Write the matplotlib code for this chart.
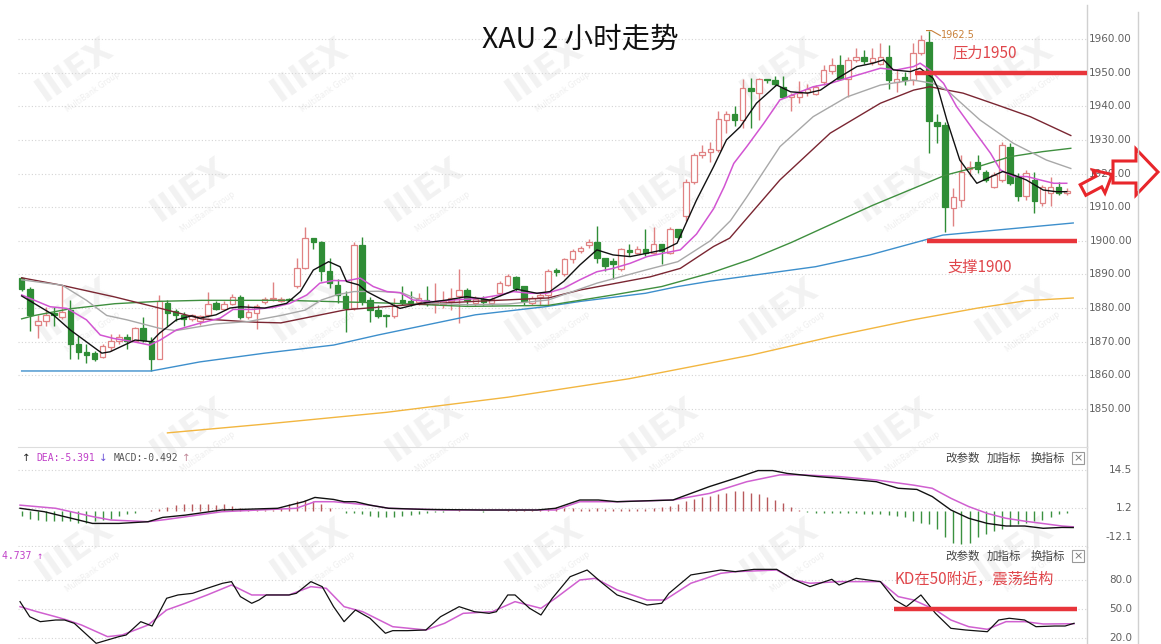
import numpy as np
import matplotlib
matplotlib.use("Agg")
import matplotlib.pyplot as plt
from matplotlib.lines import Line2D
from matplotlib.patches import Polygon, Rectangle

plt.rcParams['font.family'] = ['Noto Sans CJK SC', 'DejaVu Sans']

W, H = 1161, 644

# ---------------- data ----------------
opens = [1888.8, 1885.6, 1875.0, 1876.3, 1878.5, 1877.3, 1879.3, 1869.3, 1866.8, 1866.5,
         1865.6, 1868.3, 1870.3, 1871.3, 1870.3, 1874.0, 1870.3, 1865.0, 1881.6, 1879.0,
         1877.8, 1876.8, 1876.3, 1877.8, 1881.6, 1879.6, 1881.3, 1883.3, 1877.3, 1878.6,
         1881.8, 1882.6, 1882.2, 1882.8, 1886.5, 1892.0, 1900.8, 1899.5, 1891.0, 1887.0,
         1883.5, 1880.0, 1898.8, 1882.5, 1879.5, 1878.0, 1877.5, 1882.5, 1882.2, 1881.8,
         1882.5, 1881.2, 1881.2, 1882.0, 1883.5, 1885.5, 1881.5, 1882.8, 1881.5, 1884.5,
         1887.0, 1889.2, 1886.5, 1881.5, 1883.2, 1884.0, 1891.2, 1890.0, 1894.5, 1897.0,
         1898.7, 1899.5, 1895.0, 1894.0, 1891.5, 1897.3, 1896.5, 1897.5, 1896.5, 1899.0,
         1896.5, 1903.5, 1907.5, 1917.5, 1925.5, 1926.5, 1927.0, 1936.0, 1937.7, 1936.0,
         1945.5, 1944.0, 1948.0, 1947.8, 1945.8, 1942.8, 1942.8, 1944.2, 1943.7, 1947.2,
         1950.5, 1952.2, 1948.2, 1953.7, 1954.5, 1953.2, 1952.7, 1954.7, 1947.2, 1948.7,
         1947.7, 1955.7, 1959.2, 1935.2, 1934.3, 1909.7, 1912.2, 1921.2, 1923.4, 1920.6,
         1916.1, 1918.1, 1928.0, 1919.1, 1913.2, 1918.1, 1911.2, 1914.2, 1916.1, 1914.2]
highs = [1889.3, 1886.3, 1877.8, 1880.3, 1880.3, 1886.8, 1882.3, 1871.8, 1869.3, 1867.3,
         1869.3, 1872.3, 1872.3, 1872.3, 1874.3, 1877.3, 1871.3, 1883.8, 1882.3, 1879.8,
         1878.8, 1878.3, 1878.0, 1884.8, 1882.0, 1882.0, 1884.3, 1883.8, 1881.3, 1881.3,
         1883.3, 1887.8, 1883.3, 1883.0, 1895.0, 1904.2, 1900.8, 1899.8, 1895.0, 1888.5,
         1885.0, 1899.5, 1901.2, 1883.2, 1881.0, 1878.3, 1883.0, 1886.5, 1885.0, 1884.5,
         1886.5, 1887.5, 1885.0, 1886.0, 1891.5, 1886.0, 1883.5, 1883.5, 1883.3, 1888.0,
         1890.0, 1889.5, 1886.5, 1883.5, 1884.5, 1891.5, 1892.0, 1895.0, 1897.5, 1898.5,
         1900.5, 1904.5, 1895.0, 1895.0, 1898.0, 1899.0, 1898.5, 1903.5, 1904.0, 1899.0,
         1904.0, 1903.5, 1918.5, 1926.0, 1928.5, 1929.5, 1938.5, 1938.5, 1940.0, 1948.0,
         1948.5, 1948.5, 1948.0, 1949.0, 1949.0, 1944.0, 1947.5, 1946.5, 1946.2, 1952.2,
         1954.2, 1955.2, 1954.7, 1957.2, 1956.7, 1957.2, 1958.7, 1958.2, 1950.7, 1950.2,
         1958.7, 1961.2, 1962.5, 1937.7, 1935.2, 1915.6, 1925.4, 1923.6, 1925.5, 1921.1,
         1920.6, 1929.5, 1929.0, 1920.1, 1921.1, 1920.6, 1916.6, 1919.1, 1917.6, 1915.6]
lows = [1885.0, 1873.3, 1871.0, 1874.8, 1874.8, 1876.8, 1864.8, 1864.8, 1863.8, 1864.3,
        1865.3, 1867.3, 1869.3, 1867.8, 1869.8, 1869.8, 1861.3, 1864.8, 1874.8, 1876.3,
        1874.8, 1876.3, 1875.0, 1877.3, 1879.3, 1879.3, 1880.8, 1876.8, 1876.8, 1873.8,
        1881.3, 1882.0, 1881.8, 1882.0, 1886.0, 1891.5, 1897.5, 1888.0, 1886.0, 1881.5,
        1873.0, 1879.5, 1881.0, 1876.0, 1877.0, 1874.5, 1877.0, 1881.0, 1880.5, 1881.0,
        1880.5, 1878.5, 1880.0, 1879.5, 1875.5, 1881.0, 1880.5, 1881.0, 1881.0, 1883.5,
        1886.5, 1885.0, 1881.0, 1881.0, 1881.0, 1880.5, 1889.5, 1889.5, 1893.5, 1896.5,
        1898.0, 1893.5, 1891.0, 1888.5, 1891.0, 1895.5, 1896.0, 1895.5, 1896.0, 1893.0,
        1896.0, 1900.5, 1906.0, 1917.0, 1924.5, 1923.5, 1926.5, 1932.0, 1934.0, 1933.5,
        1933.5, 1936.0, 1947.0, 1946.0, 1942.5, 1938.5, 1941.0, 1943.0, 1943.2, 1946.2,
        1949.7, 1947.7, 1942.7, 1953.2, 1952.7, 1952.2, 1952.2, 1945.2, 1944.2, 1946.2,
        1946.2, 1955.2, 1926.2, 1929.2, 1902.5, 1904.5, 1910.0, 1919.2, 1920.2, 1917.6,
        1915.6, 1917.6, 1916.6, 1911.7, 1912.2, 1908.2, 1910.2, 1910.2, 1913.7, 1913.7]
closes = [1885.8, 1877.8, 1876.3, 1877.8, 1877.8, 1878.8, 1869.3, 1866.8, 1866.0, 1864.8,
          1868.8, 1870.3, 1871.3, 1870.3, 1874.0, 1870.6, 1865.0, 1882.0, 1878.6, 1878.0,
          1876.8, 1877.8, 1877.5, 1881.3, 1879.6, 1881.3, 1883.3, 1877.3, 1878.8, 1880.6,
          1882.6, 1883.1, 1882.8, 1882.4, 1892.0, 1900.8, 1899.5, 1891.0, 1887.5, 1884.0,
          1880.0, 1898.8, 1882.0, 1879.5, 1877.5, 1877.6, 1880.5, 1881.5, 1881.5, 1883.0,
          1881.5, 1881.8, 1882.2, 1883.0, 1885.5, 1882.5, 1882.8, 1881.8, 1882.8, 1887.5,
          1889.5, 1886.0, 1882.0, 1883.0, 1884.0, 1891.0, 1890.8, 1894.5, 1897.0, 1898.0,
          1899.7, 1895.0, 1892.5, 1893.0, 1897.5, 1896.8, 1897.5, 1896.5, 1899.0, 1897.0,
          1903.5, 1901.0, 1917.5, 1925.5, 1926.5, 1927.2, 1936.2, 1937.7, 1936.0, 1945.5,
          1944.5, 1948.0, 1947.8, 1946.5, 1942.8, 1943.2, 1944.0, 1945.2, 1945.7, 1950.7,
          1952.2, 1948.2, 1953.7, 1954.5, 1953.5, 1954.2, 1954.7, 1947.7, 1948.2, 1947.7,
          1955.7, 1959.7, 1935.7, 1934.2, 1910.0, 1913.0, 1920.5, 1922.0, 1921.2, 1918.1,
          1919.6, 1928.5, 1917.1, 1913.2, 1920.1, 1911.7, 1916.1, 1916.1, 1914.2, 1914.7]

# moving averages: (bar position, value) read at points along each line
ma5_x = [0, 3.9, 6, 9.9, 10.9, 14, 16, 17, 19.1, 21, 22, 24, 25.7, 27, 30, 32.7, 34.4, 36,
         37.9, 39.3, 40.1, 41.6, 42.6, 44.2, 46.7, 49.2, 52.5, 54.9, 57.8, 59.9, 61.1, 63.6,
         65.2, 66.9, 68.9, 71, 73, 75.1, 77.2, 79.2, 80.9, 83.3, 85.4, 87, 88.7, 90.7, 93.2,
         94.9, 97, 98.6, 100.7, 103.1, 105.1, 106.4, 107.6, 109.7, 110.9, 112.5, 113.1,
         114.2, 115.8, 117.9, 119.7, 121.1, 122.4, 124, 126.1, 127.7, 129]
ma5_y = [1883.6, 1878, 1873.5, 1866.6, 1867, 1870.5, 1870, 1872.5, 1876.5, 1877.7, 1877,
         1878, 1880, 1880.4, 1880, 1881.4, 1884.9, 1891.3, 1893.8, 1892.3, 1887.9, 1886.9,
         1884.9, 1882.9, 1879.9, 1881.4, 1882.4, 1883.4, 1882.4, 1884.4, 1885.6, 1884.4,
         1884.9, 1887.9, 1892.8, 1897.3, 1895.8, 1895.3, 1896.3, 1897.3, 1899.3, 1912.1,
         1922, 1930, 1933.9, 1940.9, 1946.3, 1944.3, 1943.9, 1944.8, 1948.3, 1951.8,
         1952.8, 1953.8, 1950.8, 1950.3, 1951.3, 1948.3, 1945.3, 1935.9, 1924, 1917.1,
         1919.1, 1920.6, 1919.6, 1918.1, 1915.1, 1914.6, 1914.6]

ma10_x = [0, 3.5, 5.6, 8, 9.7, 11.3, 13.8, 15.8, 17.1, 19.1, 22, 24.5, 26.1, 28.6, 31.1,
          33.1, 35.2, 36.8, 38.5, 40.1, 41.8, 43.4, 45.1, 46.7, 48.3, 50.8, 53.3, 56.6, 59,
          60.7, 62.8, 64.8, 66.9, 68.9, 71, 73, 75.1, 77.2, 79.2, 81.3, 83.3, 85.4, 86.7,
          87.9, 89.5, 91.6, 93.6, 95.7, 97.7, 99.8, 101.8, 103.9, 106, 108, 110.1, 110.9,
          112.1, 113.8, 115.4, 117.5, 119.6, 120.8, 122.4, 124.1, 125.7, 127.4, 129]
ma10_y = [1883.9, 1880.4, 1879.9, 1876.5, 1872, 1871, 1870, 1869, 1870.5, 1873.5, 1875.5,
          1877, 1879.6, 1879.6, 1880.2, 1881.4, 1883.9, 1887.4, 1888.2, 1888.1, 1888.9,
          1886.4, 1884.9, 1884.6, 1882.4, 1881.9, 1882.4, 1882.9, 1883.9, 1884.9, 1884.4,
          1884.4, 1885.9, 1888.4, 1890.8, 1891.8, 1893.3, 1895.3, 1896.3, 1897.3, 1902,
          1909.5, 1916, 1923, 1928, 1934.9, 1941.9, 1943.9, 1945.8, 1946.8, 1948.3, 1949.8,
          1951.3, 1950.8, 1951.8, 1952.8, 1950.8, 1946.8, 1939.9, 1932.9, 1926, 1921.1,
          1919.1, 1919.1, 1918.1, 1917.1, 1917.1]

ma20_x = [0, 5, 8, 10.5, 13, 17, 19, 24, 28, 32, 35, 37, 39, 41, 44, 47, 50, 55, 60, 65,
          71, 77, 81, 85, 87.5, 89.5, 93.6, 97.7, 101.9, 106, 110, 112.5, 114.2, 118.3,
          122.4, 126.5, 129.5]
ma20_y = [1888.4, 1886.8, 1882.3, 1877.8, 1876.5, 1874, 1873.3, 1875.3, 1876, 1877.8,
          1879.4, 1882.4, 1884, 1884.9, 1885, 1884.5, 1881.5, 1881, 1881.2, 1882.4, 1887.4,
          1891.3, 1893.8, 1900, 1906, 1913, 1928, 1936.9, 1942.8, 1946.3, 1947.8, 1946.8,
          1944.8, 1935.9, 1929, 1924, 1921.5]

ma30_x = [0, 4.9, 11.5, 16.5, 22.2, 28.8, 32, 40, 48, 56, 65, 69, 77.6, 81.3, 85.4, 87.4,
          93.6, 99.8, 106, 110.1, 112.1, 116.2, 120.4, 124.5, 129.5]
ma30_y = [1889, 1886.8, 1883.3, 1880.3, 1876.8, 1875.8, 1875.6, 1879.5, 1881, 1882, 1883,
          1885.4, 1889.3, 1891.8, 1898.3, 1900.8, 1918.1, 1932, 1940.9, 1944.8, 1945.8,
          1943.9, 1940.4, 1936.9, 1931.3]

ma60_x = [0, 1.6, 6, 11.5, 16.9, 22.2, 32.5, 45, 55, 65, 73, 79, 85, 90, 95, 100, 105,
          110, 114, 118, 122, 126, 129.5]
ma60_y = [1876.8, 1877.8, 1879.8, 1881.3, 1882, 1882.3, 1882.3, 1881.5, 1880.5, 1880.8,
          1883.9, 1886.4, 1890.4, 1894.5, 1899.5, 1905, 1910.5, 1915.5, 1919.5, 1922,
          1925, 1926.5, 1927.5]

ma120_x = [0, 16, 22, 30, 38.5, 44, 56, 64.6, 69, 77, 81, 85, 98, 104.7, 113.7, 129.8]
ma120_y = [1861.3, 1861.3, 1864, 1866.6, 1869, 1872, 1878, 1880.4, 1882, 1884.4, 1886.4,
           1888, 1892.3, 1895.8, 1901.7, 1905.3]

ma250_x = [18, 30, 45, 60, 75, 90, 100, 110, 118, 124, 129.8]
ma250_y = [1842.9, 1845.5, 1849, 1853.5, 1859, 1866, 1871.5, 1876.5, 1880, 1882.2, 1883]

price_ticks = [1850, 1860, 1870, 1880, 1890, 1900, 1910, 1920, 1930, 1940, 1950, 1960]

# MACD panel
dif_x = [-0.2, 2.8, 8.75, 12, 15.6, 17.4, 20.2, 24.7, 31.6, 34.8, 36.2, 38.5, 39.8, 41.2,
         43, 45.3, 49.9, 56.8, 63.6, 65.9, 68.9, 71.2, 73.5, 80.4, 82.6, 84.9, 88.1, 90.9,
         92.7, 94.5, 98.2, 100.9, 105.5, 108.2, 110.5, 112.4, 114.7, 116.9, 119.2, 121.5,
         123.8, 126.1, 128.4, 129.8]
dif_y = [1.1, -0.1, -4.2, -4.2, -3.6, -2.1, -1.3, 0.5, 1.1, 3.4, 4.9, 4.2, 3.4, 3.4, 2.2,
         1.1, 0.7, 0.5, 0.5, 1.1, 4.0, 4.0, 3.4, 4.0, 6.3, 8.7, 11.6, 14.3, 14.3, 13.3, 12.2,
         11.6, 10.4, 8.1, 7.7, 5.2, 0.5, -2.4, -4.2, -5.1, -5.1, -5.9, -5.6, -5.64]
dea_x = [-0.2, 4.2, 8.75, 11, 15.6, 17.9, 24.7, 33.9, 36.2, 38.5, 43, 45.3, 52.2, 65.9,
         68.9, 73.5, 80.4, 84.9, 89.5, 93.6, 96.3, 100.9, 105.5, 110.1, 112.4, 114.7, 116.9,
         119.2, 121.5, 123.8, 128.4, 129.8]
dea_y = [2.2, 1.1, -1.8, -3.0, -3.6, -2.8, -0.1, 1.1, 3.4, 3.4, 2.2, 1.1, 0.5, 0.5, 3.4, 3.4,
         4.0, 6.3, 10.4, 12.8, 12.8, 12.2, 11.0, 9.2, 8.1, 4.6, 1.7, -0.7, -2.4, -3.4, -5.1,
         -5.391]
macd_hist = [-1.5, -2.5, -3, -3.5, -3.5, -3.5, -3.5, -4, -4, -3.5, -3, -2.5, -1.5, -0.8,
             -0.4, 0.3, 0.5, 0.8, 1.5, 2.2, 2.5, 2.5, 2.5, 2.5, 2.2, 2.5, 1.8, 1.2, 0.8, 0.5,
             0.4, 0.6, 1.2, 2.5, 3.5, 4, 3.5, 2.5, 1.2, 0.3, -0.5, -0.6, -0.8, -1.5, -1.8,
             -1.8, -1.8, -1.5, -1.2, -0.8, -0.4, -0.3, -0.2, 0.2, 0.4, 0.2, 0.1, -0.1, 0.1,
             0.3, 0.5, 0.6, 0.6, 0.4, 0.8, 1.2, 1.5, 1.2, 1.2, 1.0, 1.0, 1.2, 1.0, 0.8, 0.8,
             0.8, 1.0, 1.0, 1.2, 1.5, 2.0, 2.5, 3.5, 4.5, 5.0, 5.5, 6.0, 6.5, 7.0, 7.0, 6.5,
             6.0, 5.0, 4.0, 3.0, 1.5, 0.5, -0.3, -0.4, -0.5, -0.5, -0.6, -0.6, -0.7, -0.8,
             -0.9, -1.0, -1.2, -1.5, -2.0, -3.5, -4.0, -4.5, -6.0, -9.0, -11.0, -11.5, -11.0,
             -9.0, -8.0, -7.0, -6.0, -5.0, -4.5, -4.0, -3.5, -3.0, -2.0, -1.0, -0.492]
macd_ticks = [14.5, 1.2, -12.1]

# KD panel
k_x = [-0.2, 1, 2.3, 4.2, 5.3, 6.5, 9.2, 12, 12.9, 14.7, 16.1, 17.9, 19.3, 21.1, 22.9,
       24.8, 25.9, 27, 28.4, 29.3, 30.2, 33, 33.9, 35.7, 37.1, 38.5, 39.8, 41.2, 43, 44.9,
       45.8, 47.6, 49.9, 51.7, 54, 55.9, 57.7, 58.6, 60, 60.9, 62.7, 64.1, 65.5, 67.7, 69.8,
       71.7, 73.5, 77.2, 79, 79.9, 82.6, 86.3, 88.1, 90.4, 93.2, 95.4, 97.3, 100, 100.9,
       103, 106, 107.8, 109.2, 111, 112.8, 114.7, 116.5, 119.2, 120.6, 121.9, 123.8, 125.2,
       127.5, 128.8, 129.9]
k_y = [57.6, 42, 36.9, 38.6, 38.6, 35.2, 14.5, 21.4, 23.1, 36.9, 32.4, 61.1, 64.5, 66.2,
       71.4, 76.6, 78.3, 62.8, 55.9, 59.3, 64.5, 64.5, 66.2, 78.3, 73.1, 52.4, 36.9, 49,
       40.4, 24.9, 27.6, 27.6, 28.3, 42, 52.4, 47.2, 45.5, 47.2, 64.5, 64.5, 50.7, 43.8,
       61.1, 83.4, 90.3, 76.6, 64.5, 54.1, 55.9, 66.2, 85.2, 90.3, 88.6, 91, 91, 80, 73.1,
       80.7, 74.8, 81.7, 78.3, 59.3, 52.4, 64.5, 45.5, 30, 28.3, 26.5, 38.6, 40.4, 38.6,
       31.7, 32.4, 32.4, 35.2]
d_x = [-0.2, 1.9, 4.2, 5.6, 7.4, 10.6, 12.4, 15.6, 17.9, 20.2, 22.9, 25.9, 28.4, 30.2, 33,
       35.7, 37.6, 39.8, 42.1, 45.8, 49.9, 52.2, 54.5, 58.1, 60.9, 64.1, 65.9, 68.9, 70.8,
       73.5, 77.2, 79.4, 82.6, 86.3, 88.1, 93.2, 95.4, 97.3, 100.9, 106, 108.2, 110.1,
       112.8, 114.7, 116.9, 119.2, 121.5, 123.8, 126.1, 129.9]
d_y = [52.4, 47.2, 42, 38.6, 33.4, 21.4, 23.1, 33.4, 49, 55.9, 64.5, 74.8, 64.5, 64.5, 64.5,
       73.1, 71.4, 52.4, 47.2, 31.7, 28.3, 35.2, 45.5, 47.2, 57.6, 50.7, 61.1, 80, 81.7,
       69.7, 59.3, 59.3, 76.6, 86.9, 88.6, 90.3, 80, 76.6, 78.3, 78.3, 62.8, 59.3, 49, 38.6,
       31.7, 29, 36.9, 36.9, 34.5, 34.737]
kd_ticks = [80, 50, 20]

# ---------------- drawing ----------------
UP = '#e08283'
DOWN = '#2f8d36'
GRID = '#d4d4d4'
AXC = '#d0d0d0'
LBL = '#606060'


def px_rect(x0, y0, x1, y1):
    return [x0 / W, 1 - y1 / H, (x1 - x0) / W, (y1 - y0) / H]


def fx(x):
    return x / W


def fy(y):
    return 1 - y / H


fig = plt.figure(figsize=(W / 100, H / 100), dpi=100)
fig.patch.set_facecolor('white')

# faint watermarks behind the panels
for r in range(5):
    for c in range(5):
        cx = 75 + c * 235 + (r % 2) * 115
        cy = 70 + r * 120
        if cx > 1060:
            continue
        fig.text(fx(cx), fy(cy), 'IIIEX', fontsize=24, fontweight='bold', color='#f2f2f2',
                 rotation=35, ha='center', va='center', zorder=-5, family='DejaVu Sans')
        fig.text(fx(cx + 18), fy(cy + 22), 'MultiBank Group', fontsize=5.5, color='#eeeeee',
                 rotation=35, ha='center', va='center', zorder=-5, family='DejaVu Sans')

XL = (-0.45, 131.5)
ax = fig.add_axes(px_rect(18, 5, 1087, 447))
mx = fig.add_axes(px_rect(18, 447, 1087, 547))
kx = fig.add_axes(px_rect(18, 547, 1087, 644))

for a in (ax, mx, kx):
    a.set_facecolor('none')
    a.set_xlim(*XL)
    a.set_xticks([])
    a.set_yticks([])
    for s in ('left', 'bottom', 'top'):
        a.spines[s].set_visible(False)
    a.spines['right'].set_color(AXC)
    a.spines['right'].set_linewidth(1)
mx.spines['top'].set_visible(True)
mx.spines['top'].set_color('#dddddd')

ax.set_ylim(1838.7, 1970.1)
mx.set_ylim(-12.45, 22.55)
kx.set_ylim(13.8, 114.1)

dots = (0, (1, 2))
for v in price_ticks:
    ax.axhline(v, color=GRID, lw=0.8, ls=dots, zorder=0)
    ax.text(1.0421, v, '%.2f' % v, transform=ax.get_yaxis_transform(), ha='right',
            va='center', fontsize=7.5, color=LBL, family='DejaVu Sans', clip_on=False)
for v in macd_ticks:
    mx.axhline(v, color=GRID, lw=0.8, ls=dots, zorder=0)
    yy = v if v > -12 else v + 3.2
    mx.text(1.0421, yy, '%.1f' % v, transform=mx.get_yaxis_transform(), ha='right',
            va='center', fontsize=7.5, color=LBL, family='DejaVu Sans', clip_on=False)
for v in kd_ticks:
    kx.axhline(v, color=GRID, lw=0.8, ls=dots, zorder=0)
    kx.text(1.0421, v, '%.1f' % v, transform=kx.get_yaxis_transform(), ha='right',
            va='center', fontsize=7.5, color=LBL, family='DejaVu Sans', clip_on=False)

# candles
o = np.array(opens)
h = np.array(highs)
l = np.array(lows)
c = np.array(closes)
idx = np.arange(len(o))
up = c >= o
body = np.where(np.abs(c - o) < 0.3, 0.3, np.abs(c - o))
ax.vlines(idx[up], l[up], h[up], color=UP, lw=1.0, zorder=2)
ax.vlines(idx[~up], l[~up], h[~up], color=DOWN, lw=1.0, zorder=2)
ax.bar(idx[up], body[up], bottom=o[up], width=0.68, facecolor='white', edgecolor=UP,
       linewidth=0.9, zorder=3)
ax.bar(idx[~up], body[~up], bottom=c[~up], width=0.68, facecolor=DOWN, edgecolor=DOWN,
       linewidth=0.9, zorder=3)

# moving averages
ax.plot(ma250_x, ma250_y, color='#f2b640', lw=1.0, zorder=4)
ax.plot(ma120_x, ma120_y, color='#3d8fcc', lw=1.0, zorder=4)
ax.plot(ma60_x, ma60_y, color='#3f8f3f', lw=1.0, zorder=4)
ax.plot(ma30_x, ma30_y, color='#7a2632', lw=1.0, zorder=4)
ax.plot(ma20_x, ma20_y, color='#a8a8a8', lw=1.0, zorder=4)
ax.plot(ma10_x, ma10_y, color='#d255d2', lw=1.1, zorder=5)
ax.plot(ma5_x, ma5_y, color='#111111', lw=1.0, zorder=6)

# high-price marker
ax.plot([111.7, 112.3, 113.4], [1962.5, 1962.5, 1961.0], color='#c8803a', lw=0.8, zorder=7)
ax.text(113.5, 1961.2, '1962.5', fontsize=7, color='#c8803a', va='center', ha='left',
        family='DejaVu Sans', zorder=7)

# resistance / support
RED = '#e8353b'
ax.plot([110.3, 131.5], [1950, 1950], color=RED, lw=3.2, solid_capstyle='butt', zorder=8)
ax.plot([111.7, 130.3], [1900, 1900], color=RED, lw=3.2, solid_capstyle='butt', zorder=8)
ax.text(114.9, 1956.0, '压力1950', fontsize=11, color='#e0464b', va='center', ha='left',
        zorder=8)
ax.text(114.3, 1892.1, '支撑1900', fontsize=11, color='#e0464b', va='center', ha='left',
        zorder=8)

# MACD panel
hist = np.array(macd_hist)
mx.vlines(idx[hist >= 0], 0, hist[hist >= 0], color='#b8595c', lw=1.0, zorder=2)
mx.vlines(idx[hist < 0], 0, hist[hist < 0], color='#3b9140', lw=1.0, zorder=2)
mx.plot(dea_x, dea_y, color='#d060d0', lw=1.1, zorder=3)
mx.plot(dif_x, dif_y, color='#111111', lw=1.0, zorder=4)

# KD panel
kx.plot(d_x, d_y, color='#d060d0', lw=1.1, zorder=3)
kx.plot(k_x, k_y, color='#111111', lw=0.9, zorder=4)
kx.plot([107.7, 130.3], [50, 50], color=RED, lw=3.2, solid_capstyle='butt', zorder=8)
kx.text(107.7, 80.5, 'KD在50附近，震荡结构', fontsize=11, color='#e0464b', va='center',
        ha='left', zorder=8)

# panel headers
mono = 'DejaVu Sans Mono'
hy = fy(458)
fig.text(fx(22), hy, '↑', fontsize=7.5, color='#222222', va='center', family='DejaVu Sans')
fig.text(fx(36), hy, 'DEA:-5.391', fontsize=7, color='#c040c8', va='center', family=mono)
fig.text(fx(99), hy, '↓', fontsize=7.5, color='#6a50d8', va='center', family='DejaVu Sans')
fig.text(fx(114), hy, 'MACD:-0.492', fontsize=7, color='#555555', va='center', family=mono)
fig.text(fx(182), hy, '↑', fontsize=7.5, color='#c08898', va='center', family='DejaVu Sans')
fig.text(fx(2), fy(556), '4.737 ↑', fontsize=7, color='#c040c8', va='center',
         family=[mono, 'DejaVu Sans'])

for yy in (458, 556):
    fig.text(fx(945), fy(yy), '改参数', fontsize=8.3, color='#444444', va='center')
    fig.text(fx(987), fy(yy), '加指标', fontsize=8.3, color='#444444', va='center')
    fig.text(fx(1031), fy(yy), '换指标', fontsize=8.3, color='#444444', va='center')
    fig.add_artist(Rectangle((fx(1072), fy(yy + 6)), 12 / W, 12 / H, transform=fig.transFigure,
                             fill=False, ec='#999999', lw=0.8))
    fig.text(fx(1078), fy(yy), '×', fontsize=8, color='#777777', va='center', ha='center',
             family='DejaVu Sans')

# frame line of the value axis
fig.add_artist(Line2D([fx(1138)] * 2, [fy(12), 0], color=AXC, lw=1))

# title
fig.text(fx(580), fy(40), 'XAU 2 小时走势', fontsize=20.5, color='#111111', ha='center',
         va='center', fontweight='light')


# hollow arrows on the right
def arrow_poly(tx, ty, ang, L, sw, hw, hl):
    pts = np.array([[0, -sw], [L - hl, -sw], [L - hl, -hw], [L, 0], [L - hl, hw],
                    [L - hl, sw], [0, sw]], dtype=float)
    a = np.deg2rad(ang)
    rot = np.array([[np.cos(a), -np.sin(a)], [np.sin(a), np.cos(a)]])
    pts = pts @ rot.T
    pts[:, 0] += tx
    pts[:, 1] = ty - pts[:, 1]
    return np.column_stack([pts[:, 0] / W, 1 - pts[:, 1] / H])


fig.add_artist(Polygon(arrow_poly(1083, 190, 28, 33, 6, 13, 15), closed=True, fill=False,
                       ec='#e8262b', lw=2.2, transform=fig.transFigure, joinstyle='miter'))
fig.add_artist(Polygon(arrow_poly(1113, 172, 0, 45, 11, 23, 22), closed=True, fill=False,
                       ec='#e8262b', lw=2.2, transform=fig.transFigure, joinstyle='miter'))

fig.savefig('out.png', dpi=100, facecolor='white')
